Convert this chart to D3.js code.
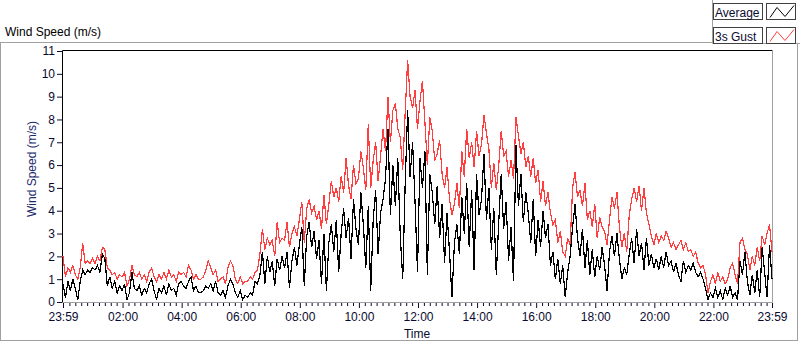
<!DOCTYPE html>
<html>
<head>
<meta charset="utf-8">
<script src="https://cdn.jsdelivr.net/npm/d3@7"></script>
<style>
body { margin: 0; background: #fff; }
text { font-family: "Liberation Sans", Arial, sans-serif; }
</style>
</head>
<body>
<svg width="800" height="342"></svg>
<script>

// one point every 5 minutes, starting 23:59 the day before
var startTime = new Date(2020, 0, 1, 23, 59);
var stepMinutes = 5;

var avgSpeed = [
  0.8, 0.2, 0.9, 0.5, 1.0, 0.6, 0.1, 0.9, 1.4, 1.2,
  1.4, 1.3, 1.5, 1.4, 1.6, 1.3, 2.1, 1.9, 0.7, 1.1,
  0.6, 0.9, 0.4, 0.7, 0.5, 0.8, 0.1, 0.4, 1.3, 0.6,
  0.5, 0.7, 0.3, 0.6, 0.4, 0.8, 1.0, 0.5, 0.1, 0.6,
  0.4, 0.7, 0.3, 0.8, 0.5, 0.6, 0.3, 0.8, 0.9, 0.7,
  0.6, 0.9, 1.1, 0.5, 0.7, 0.4, 0.4, 0.5, 0.7, 0.6,
  0.8, 0.5, 0.9, 0.4, 0.3, 0.5, 0.2, 0.7, 1.0, 0.8,
  0.4, 0.2, 0.5, 0.1, 0.3, 0.2, 0.4, 0.3, 0.9, 0.8,
  1.2, 2.2, 0.8, 2.0, 1.3, 1.8, 0.7, 1.9, 1.4, 2.0,
  1.5, 2.2, 0.6, 1.8, 2.4, 1.6, 2.5, 3.3, 0.7, 2.9,
  3.5, 2.4, 3.1, 1.9, 2.7, 0.8, 3.0, 0.5, 2.6, 3.4,
  2.2, 3.6, 1.3, 3.0, 4.1, 2.8, 3.7, 1.9, 4.5, 3.2,
  2.5, 4.8, 3.4, 1.5, 4.2, 0.5, 3.6, 4.9, 2.1, 3.9,
  4.5, 5.4, 7.6, 3.8, 6.0, 4.2, 6.3, 2.9, 1.0, 5.2,
  8.4, 5.5, 7.0, 4.4, 1.3, 6.3, 5.0, 6.6, 1.2, 5.6,
  4.8, 3.4, 5.1, 2.8, 4.3, 1.7, 3.9, 2.2, 0.2, 2.6,
  3.4, 2.1, 4.6, 3.0, 5.2, 2.4, 4.9, 1.4, 5.6, 3.8,
  4.5, 6.5, 3.6, 5.0, 2.3, 4.1, 1.2, 3.5, 5.6, 3.2,
  4.4, 1.8, 3.3, 0.9, 6.9, 4.2, 5.6, 3.5, 4.8, 3.9,
  2.6, 4.5, 2.0, 3.6, 2.4, 4.0, 2.8, 3.4, 1.6, 2.2,
  1.0, 1.9, 0.8, 1.6, 0.2, 1.3, 2.0, 3.3, 4.3, 2.8,
  2.0, 3.2, 1.5, 2.7, 1.2, 2.3, 1.1, 2.0, 1.4, 2.4,
  1.6, 0.5, 2.2, 2.9, 2.0, 3.0, 1.9, 1.0, 1.5, 1.2,
  2.1, 2.8, 1.7, 3.2, 2.0, 2.6, 1.4, 2.8, 1.6, 2.1,
  1.5, 1.9, 1.4, 2.0, 1.5, 2.2, 1.6, 1.8, 1.3, 1.7,
  1.2, 0.9, 1.8, 1.3, 1.6, 1.4, 1.7, 1.3, 1.1, 1.3,
  1.0, 0.6, 0.1, 0.4, 0.2, 0.6, 0.2, 0.5, 0.1, 0.6,
  0.3, 0.7, 0.2, 0.4, 0.1, 1.8, 1.2, 2.2, 0.9, 0.3,
  1.2, 0.4, 1.4, 0.2, 2.4, 1.3, 0.2, 2.5, 1.0
];

var gustSpeed = [
  2.0, 1.1, 1.5, 1.3, 1.6, 1.2, 1.0, 1.5, 2.6, 1.7,
  1.8, 1.7, 1.9, 1.7, 2.0, 1.8, 2.4, 2.3, 1.5, 1.4,
  1.2, 1.3, 1.0, 1.2, 1.1, 1.3, 0.7, 1.0, 1.6, 1.2,
  1.1, 1.3, 1.0, 1.2, 0.9, 1.3, 1.5, 1.1, 0.9, 1.2,
  1.0, 1.3, 1.0, 1.4, 1.1, 1.2, 0.9, 1.3, 1.2, 1.3,
  1.1, 1.6, 1.4, 1.0, 1.2, 1.0, 1.0, 1.1, 1.4, 1.8,
  1.5, 1.2, 1.4, 0.9, 1.0, 1.1, 0.8, 1.5, 1.8, 1.6,
  1.0, 0.8, 1.1, 0.8, 0.9, 0.9, 1.1, 1.0, 1.3, 1.4,
  2.1, 3.2, 2.3, 2.8, 2.5, 2.7, 2.0, 3.5, 2.6, 2.8,
  2.7, 3.5, 2.4, 3.0, 3.3, 2.9, 3.6, 4.4, 2.6, 4.1,
  4.5, 3.9, 4.2, 3.6, 4.0, 3.2, 4.7, 3.4, 4.3, 5.3,
  4.6, 5.0, 4.4, 5.5, 4.8, 6.3, 5.1, 4.5, 6.0, 5.2,
  5.4, 6.6, 5.9, 4.9, 7.8, 5.0, 6.2, 7.0, 5.3, 6.4,
  7.6, 6.6, 9.0, 7.0, 8.4, 8.7, 7.6, 7.2, 5.8, 8.3,
  10.6, 9.0, 8.5, 9.3, 7.6, 8.8, 9.7, 7.9, 6.0, 8.1,
  7.5, 6.2, 6.5, 7.1, 5.6, 5.0, 5.9, 4.5, 3.8, 4.3,
  5.2, 4.1, 6.6, 5.5, 7.6, 6.3, 7.0, 5.9, 7.5, 6.4,
  6.9, 8.2, 7.4, 6.7, 5.0, 6.1, 4.9, 6.0, 7.5, 6.4,
  6.6, 5.5, 6.2, 5.4, 8.1, 7.3, 6.5, 7.0, 5.9, 6.4,
  5.5, 6.3, 5.2, 5.8, 4.4, 5.3, 4.2, 4.8, 3.9, 3.4,
  3.6, 2.6, 3.1, 2.2, 2.0, 2.8, 2.5, 5.0, 5.7, 4.6,
  4.9, 4.2, 5.2, 3.6, 4.0, 3.3, 4.3, 2.8, 3.7, 3.3,
  3.1, 2.5, 3.6, 4.6, 4.1, 4.8, 3.3, 2.4, 3.0, 2.2,
  3.8, 4.5, 5.0, 4.4, 5.1, 4.0, 5.0, 3.9, 3.4, 2.9,
  2.5, 3.0, 2.6, 2.9, 2.7, 3.1, 2.8, 2.4, 2.6, 2.3,
  2.5, 2.7, 2.3, 2.6, 2.2, 2.3, 2.0, 2.2, 1.7, 1.5,
  1.6, 1.2, 0.4, 0.9, 1.2, 0.8, 1.3, 0.9, 1.1, 0.8,
  1.0, 1.5, 1.7, 1.2, 0.8, 2.6, 2.8, 2.3, 2.1, 1.4,
  2.0, 1.6, 2.4, 1.8, 2.9, 2.5, 3.0, 3.4, 2.2
];

var yTicks = [0, 1, 2, 3, 4, 5, 6, 7, 8, 9, 10, 11];
var xTickLabels = ["23:59", "02:00", "04:00", "06:00", "08:00", "10:00", "12:00",
                   "14:00", "16:00", "18:00", "20:00", "22:00", "23:59"];
var seriesNames = ["Average", "3s Gust"];
var seriesColors = ["#000000", "#ff3f3f"];

var endTime = d3.timeMinute.offset(startTime, 24 * 60);

var svg = d3.select("svg");
var textCol = "#0a0a30";

// outer frame
svg.append("rect").attr("x", 0.5).attr("y", 42.5).attr("width", 797).attr("height", 298)
    .attr("fill", "none").attr("stroke", "#a0a0a0");

svg.append("text").attr("x", 5).attr("y", 36).attr("font-size", 12).attr("fill", "#000")
    .text("Wind Speed (m/s)");

var xScale = d3.scaleTime().domain([startTime, endTime]).range([63, 772]);
var yScale = d3.scaleLinear().domain([0, 11]).range([302, 51]);

// plot area: dark top/left, grey bottom/right
svg.append("rect").attr("x", 62.5).attr("y", 50.5).attr("width", 710).attr("height", 252)
    .attr("fill", "#fff");
svg.append("path").attr("d", "M62.5,302.5V50.5H772.5").attr("fill", "none").attr("stroke", "#000");
svg.append("path").attr("d", "M772.5,50.5V302.5H62.5").attr("fill", "none").attr("stroke", "#a0a0a0");

// y axis
var yAxis = d3.axisLeft(yScale).tickValues(yTicks).tickSize(5).tickPadding(2).tickFormat(d3.format("d"));
var yG = svg.append("g").attr("transform", "translate(62,0)").call(yAxis);
yG.select(".domain").remove();
yG.selectAll("line").attr("stroke", textCol);
yG.selectAll("text").attr("font-size", 12).attr("fill", textCol)
    .attr("font-family", "Liberation Sans, Arial, sans-serif");

svg.append("text").attr("transform", "translate(36,169) rotate(-90)")
    .attr("text-anchor", "middle").attr("font-size", 12).attr("fill", "#1c2a6e")
    .text("Wind Speed (m/s)");

// x axis
var xTickTimes = xTickLabels.map(function (l, i) {
    if (i == 0) return startTime;
    if (i == xTickLabels.length - 1) return endTime;
    var p = l.split(":");
    return new Date(2020, 0, 2, +p[0], +p[1]);
});
var minorTimes = d3.timeMinute.every(12).range(startTime, endTime).filter(function (t) {
    return d3.min(xTickTimes, function (m) { return Math.abs(m - t); }) > 3 * 60000;
});

var xMinor = d3.axisBottom(xScale).tickValues(minorTimes).tickSize(3).tickFormat("");
var xmG = svg.append("g").attr("transform", "translate(0,303)").call(xMinor);
xmG.select(".domain").remove();
xmG.selectAll("line").attr("stroke", textCol);

var xAxis = d3.axisBottom(xScale).tickValues(xTickTimes).tickSize(5).tickPadding(4)
    .tickFormat(function (d, i) { return xTickLabels[i]; });
var xG = svg.append("g").attr("transform", "translate(0,303)").call(xAxis);
xG.select(".domain").remove();
xG.selectAll("line").attr("stroke", textCol);
xG.selectAll("text").attr("font-size", 12).attr("fill", textCol)
    .attr("font-family", "Liberation Sans, Arial, sans-serif");

svg.append("text").attr("x", 417).attr("y", 338).attr("text-anchor", "middle")
    .attr("font-size", 12).attr("fill", textCol).text("Time");

// series: gust underneath, average on top
var line = d3.line()
    .x(function (d, i) { return xScale(d3.timeMinute.offset(startTime, i * stepMinutes)); })
    .y(function (d) { return yScale(d); });

[gustSpeed, avgSpeed].forEach(function (s, k) {
    svg.append("path").attr("d", line(s)).attr("fill", "none")
        .attr("stroke", seriesColors[1 - k]).attr("stroke-width", 1.2)
        .style("shape-rendering", "crispEdges");
});

// legend
svg.append("path").attr("d", "M712.5,0V43.5H800").attr("fill", "none").attr("stroke", "#a0a0a0");
svg.append("rect").attr("x", 713).attr("y", 0).attr("width", 87).attr("height", 43).attr("fill", "#fff");
seriesNames.forEach(function (name, i) {
    var y0 = 3.5 + i * 24;
    svg.append("rect").attr("x", 713.5).attr("y", y0).attr("width", 49).attr("height", 16)
        .attr("fill", "#fff").attr("stroke", "#404040");
    svg.append("text").attr("x", 715).attr("y", y0 + 13).attr("font-size", 12)
        .attr("fill", textCol).text(name);
    svg.append("rect").attr("x", 766.5).attr("y", y0).attr("width", 29).attr("height", 16)
        .attr("fill", "#fff").attr("stroke", "#404040");
    svg.append("path")
        .attr("d", "M770," + (y0 + 14) + "L777," + (y0 + 4) + "L785," + (y0 + 13) + "L794," + (y0 + 2))
        .attr("fill", "none").attr("stroke", seriesColors[i]);
});
</script>
</body>
</html>
